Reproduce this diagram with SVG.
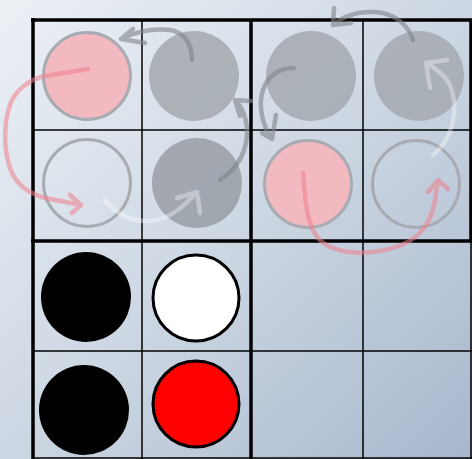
<svg xmlns="http://www.w3.org/2000/svg" width="472" height="459" viewBox="0 0 472 459">
  <defs>
    <linearGradient id="bg" x1="0" y1="0" x2="1" y2="1">
      <stop offset="0" stop-color="#edf1f6"/>
      <stop offset="0.5" stop-color="#cdd7e3"/>
      <stop offset="1" stop-color="#a7b7cd"/>
    </linearGradient>
  </defs>
  <style>
    .thin { stroke: #000; stroke-width: 1.5; fill: none; }
    .thick { stroke: #000; stroke-width: 3.5; fill: none; }
    .fpink { fill: #f2b9c1; stroke: #a8acb2; stroke-width: 3; }
    .fgray { fill: #a4a9b0; opacity: 0.85; }
    .fgray2 { fill: #999ea6; opacity: 0.85; }
    .fopen { fill: none; stroke: #a8acb2; stroke-width: 3; }
    .black { fill: #000; }
    .white { fill: #fff; stroke: #000; stroke-width: 3; }
    .red { fill: #ff0000; stroke: #000; stroke-width: 3; }
    .arr { fill: none; stroke-width: 4.5; stroke-linecap: round; stroke-linejoin: round; }
    .ared { stroke: #ef7f8b; opacity: 0.55; }
    .agray { stroke: #808489; opacity: 0.6; }
    .awhite { stroke: #ffffff; opacity: 0.35; }
  </style>
  <rect x="0" y="0" width="472" height="459" fill="url(#bg)"/>

  <g id="grid">
    <line class="thin" x1="142" y1="20" x2="142" y2="459"/>
    <line class="thin" x1="363" y1="20" x2="363" y2="459"/>
    <line class="thin" x1="33" y1="130" x2="472" y2="130"/>
    <line class="thin" x1="33" y1="351" x2="472" y2="351"/>
    <line class="thin" x1="471" y1="241" x2="471" y2="459"/>
    <line class="thick" x1="33" y1="18" x2="33" y2="459"/>
    <line class="thick" x1="31" y1="20" x2="472" y2="20"/>
    <line class="thick" x1="251" y1="20" x2="251" y2="459"/>
    <line class="thick" x1="471" y1="20" x2="471" y2="241"/>
    <line class="thick" x1="31" y1="241" x2="472" y2="241"/>
    <line class="thin" x1="33" y1="458" x2="472" y2="458"/>
  </g>

  <g id="n-a1"><circle class="fpink" cx="87" cy="76" r="43.5"/></g>
  <g id="n-a2"><circle class="fgray" cx="194" cy="76" r="45"/></g>
  <g id="n-a3"><circle class="fgray" cx="311" cy="76" r="45"/></g>
  <g id="n-a4"><circle class="fgray" cx="419" cy="76" r="45"/></g>
  <g id="n-b1"><circle class="fopen" cx="87" cy="183" r="43.5"/></g>
  <g id="n-b2"><circle class="fgray2" cx="197" cy="183" r="45"/></g>
  <g id="n-b3"><circle class="fpink" cx="308" cy="184" r="43.5"/></g>
  <g id="n-b4"><circle class="fopen" cx="416" cy="184" r="43.5"/></g>

  <g id="n-c1"><circle class="black" cx="86" cy="297" r="45"/></g>
  <g id="n-c2"><circle class="white" cx="196" cy="298" r="43"/></g>
  <g id="n-d1"><circle class="black" cx="84" cy="410" r="45"/></g>
  <g id="n-d2"><circle class="red" cx="196" cy="404" r="43"/></g>

  <g id="connectors" class="arr">
    <path class="arr ared" d="M88,69 L45,76 C30,79 15,90 10,105 C3,125 4,150 10,168 C16,185 28,193 45,198 L81,205 M70,195 L81,205 L72,213"/>
    <path class="arr agray" d="M192,60 C192,45 185,32 170,30 C150,28 135,32 121,39 M133,29 L121,39 L145,43"/>
    <path class="arr agray" d="M220,180 C238,168 248,150 247,128 C246,115 242,107 235,100 M251,101 L235,100 L240,116"/>
    <path class="arr awhite" d="M105,200 C115,212 130,222 150,221 C170,220 185,205 197,192 M177,198 L197,192 L200,213"/>
    <path class="arr agray" d="M294,68 C280,68 268,75 263,90 C258,105 262,125 272,139 M262,133 L272,139 L276,115"/>
    <path class="arr agray" d="M413,40 C408,25 395,13 375,12 C355,11 342,17 333,25 M334,8 L333,25 L351,23"/>
    <path class="arr awhite" d="M433,155 C452,140 460,110 450,85 C445,75 435,68 426,63 M447,60 L426,63 L430,88"/>
    <path class="arr ared" d="M303,173 C305,200 307,225 318,238 C330,252 355,255 380,251 C410,246 430,232 435,200 L438,180 M428,192 L438,180 L448,189"/>
  </g>
</svg>
